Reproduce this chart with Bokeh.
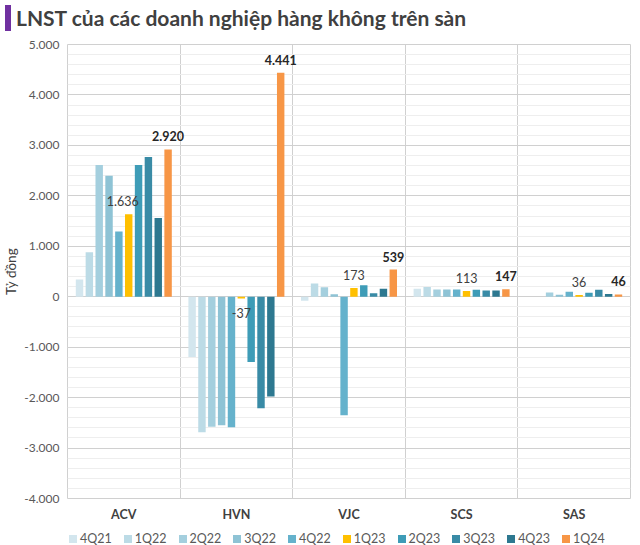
from bokeh.plotting import figure
from bokeh.models import (ColumnDataSource, Range1d, FixedTicker, Div)
from bokeh.layouts import column
from bokeh.transform import dodge
from bokeh.core.properties import value
from bokeh.embed import file_html
from bokeh.resources import INLINE

# ---- data ----
companies = ["ACV", "HVN", "VJC", "SCS", "SAS"]
quarters = ["4Q21", "1Q22", "2Q22", "3Q22", "4Q22", "1Q23", "2Q23", "3Q23", "4Q23", "1Q24"]
acv = [340, 880, 2610, 2400, 1294, 1636, 2610, 2770, 1563, 2920]
hvn = [-1196, -2686, -2580, -2549, -2588, -37, -1294, -2210, -1980, 4441]
vjc = [-80, 260, 190, 50, -2350, 173, 225, 70, 160, 539]
scs = [160, 195, 145, 145, 145, 113, 140, 125, 125, 147]
sas = [0, 0, 85, 40, 100, 36, 80, 140, 55, 46]
y_ticks = [-4000, -3000, -2000, -1000, 0, 1000, 2000, 3000, 4000, 5000]
y_minor = list(range(-4000, 5001, 200))

colors = ["#d3e6ee", "#bcdbe6", "#a4cfde", "#8ec3d5", "#65b2cc", "#ffc000",
          "#3e9cb7", "#398ba6", "#2d7890", "#f79646"]

series = [acv, hvn, vjc, scs, sas]


def vn(v):
    s = f"{abs(int(v)):,}".replace(",", ".")
    return "-" + s if v < 0 else s


xi = list(range(len(companies)))
data = {"x": xi}
for qi, q in enumerate(quarters):
    data[q] = [s[qi] for s in series]
src = ColumnDataSource(data)

FONT = "Lato"

title = Div(text="LNST của các doanh nghiệp hàng không trên sàn", width=624, height=26,
            styles={"border-left": "6px solid #7030a0", "padding-left": "5px",
                    "font-family": FONT, "font-weight": "bold", "font-size": "21px",
                    "color": "#404040", "line-height": "26px", "white-space": "nowrap",
                    "box-sizing": "border-box"})

p = figure(frame_width=563, frame_height=454,
           output_backend="svg", toolbar_location=None,
           x_range=Range1d(-0.5, 4.5), y_range=Range1d(-4000, 5000),
           min_border_left=60, min_border_right=1, min_border_top=8, min_border_bottom=24)
p.background_fill_color = "white"
p.border_fill_color = "white"
p.outline_line_color = "#d0d0d0"

step = 0.0874
bw = 0.066
for qi, q in enumerate(quarters):
    off = (qi - 4.5) * step
    p.vbar(x=dodge("x", off, range=p.x_range), top=q, bottom=0, width=bw,
           source=src, fill_color=colors[qi], line_color=None)

# data labels for 1Q23 and 1Q24
label_dx = [-6, 0, 0, 0, 0]
for qi, bold in [(5, False), (9, True)]:
    off = (qi - 4.5) * step
    vals = [s[qi] for s in series]
    lsrc = ColumnDataSource(dict(
        x=[i + off for i in xi], y=vals, t=[vn(v) for v in vals],
        dy=[-13 if v >= 0 else 14 for v in vals], dx=label_dx if not bold else [0] * 5))
    p.text(x="x", y="y", text="t", source=lsrc, x_offset="dx", y_offset="dy",
           text_align="center", text_baseline="middle",
           text_font=value(FONT), text_font_size="12.5px",
           text_font_style="bold" if bold else "normal",
           text_color="#262626" if bold else "#404040")

# axes
for ax in (p.xaxis[0], p.yaxis[0]):
    ax.axis_line_color = None
    ax.major_tick_line_color = None
    ax.minor_tick_line_color = None
    ax.major_tick_out = 0
    ax.major_tick_in = 0
    ax.minor_tick_out = 0
    ax.minor_tick_in = 0

p.yaxis.ticker = FixedTicker(ticks=y_ticks, minor_ticks=y_minor)
p.yaxis.major_label_overrides = {t: vn(t) for t in y_ticks}
p.yaxis.major_label_text_font = FONT
p.yaxis.major_label_text_font_size = "12px"
p.yaxis.major_label_text_color = "#595959"
p.yaxis.major_label_standoff = 8
p.yaxis.axis_label = "Tỷ đồng"
p.yaxis.axis_label_text_font = FONT
p.yaxis.axis_label_text_font_style = "normal"
p.yaxis.axis_label_text_font_size = "13.5px"
p.yaxis.axis_label_text_color = "#404040"
p.yaxis.axis_label_standoff = 2

p.xaxis.ticker = FixedTicker(ticks=xi)
p.xaxis.major_label_overrides = {i: c for i, c in enumerate(companies)}
p.xaxis.major_label_text_font = FONT
p.xaxis.major_label_text_font_style = "bold"
p.xaxis.major_label_text_font_size = "12.5px"
p.xaxis.major_label_text_color = "#404040"
p.xaxis.major_label_standoff = 8

p.ygrid.ticker = FixedTicker(ticks=y_ticks, minor_ticks=y_minor)
p.ygrid.grid_line_color = "#d0d0d0"
p.ygrid.minor_grid_line_color = "#eeeeee"
p.xgrid.ticker = FixedTicker(ticks=[0.5, 1.5, 2.5, 3.5])
p.xgrid.grid_line_color = "#d0d0d0"

# legend strip as HTML (built from the quarters and colours lists)
legend_html = "".join(
    f'<span style="display:inline-block;margin-right:12px;white-space:nowrap">'
    f'<span style="display:inline-block;width:8px;height:8px;background:{c};'
    f'margin-right:3px;vertical-align:middle"></span>'
    f'<span style="vertical-align:middle">{q}</span></span>'
    for q, c in zip(quarters, colors))
legend_div = Div(text=legend_html, width=624, height=17,
                 styles={"padding-left": "64px", "font-family": FONT, "font-size": "12.5px",
                         "color": "#595959", "line-height": "17px", "white-space": "nowrap",
                         "box-sizing": "border-box"})

layout = column(title, p, legend_div, spacing=0)
open("out.html", "w").write(file_html(layout, INLINE))
